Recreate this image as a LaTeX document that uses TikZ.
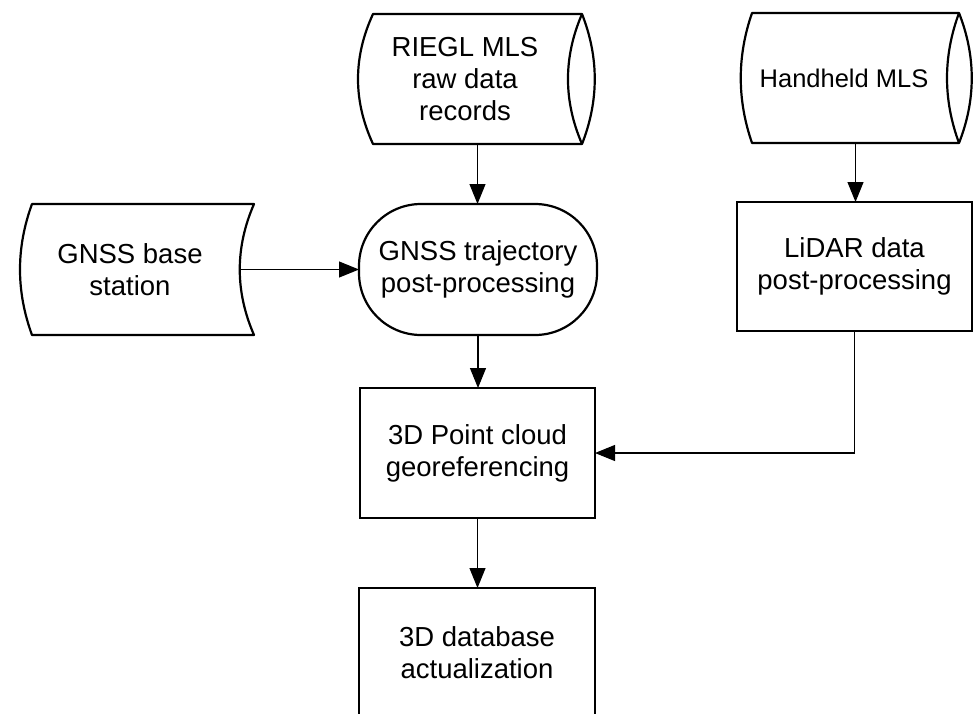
\documentclass[tikz,border=0pt]{standalone}
\usepackage{fontspec}
\setmainfont{Liberation Sans}
\usetikzlibrary{calc,arrows.meta}
\tikzset{
  outline/.style={line width=2.2pt, line join=round},
  shp/.style={draw=none, inner sep=0pt, outer sep=0pt},
  lbl/.style={align=center, inner sep=0pt, font=\fontsize{27.5}{32}\selectfont},
  box/.style={draw, line width=2.2pt, align=center, inner sep=0pt, outer sep=0pt,
              font=\fontsize{27.5}{32}\selectfont},
  conn/.style={line width=1.1pt, -{Triangle[length=20pt,width=16pt]}},
}
\begin{document}
\begin{tikzpicture}[x=1pt,y=-1pt]
\useasboundingbox (0,0) rectangle (973,713);
\clip (0,0) rectangle (973,713);

% RIEGL MLS raw data records (direct access storage)
\node[shp, minimum width=209pt, minimum height=130pt] (riegl) at (477.5,79) {};
\draw[outline] (riegl.north west) -- (riegl.north east)
  .. controls ($(riegl.north east)+(17,43.3)$) and ($(riegl.south east)+(17,-43.3)$) .. (riegl.south east)
  -- (riegl.south west)
  .. controls ($(riegl.south west)+(-20,-43.3)$) and ($(riegl.north west)+(-20,43.3)$) .. cycle;
\draw[outline] (riegl.north east)
  .. controls ($(riegl.north east)+(-18.7,43.3)$) and ($(riegl.south east)+(-18.7,-43.3)$) .. (riegl.south east);
\node[lbl] (riegl-t) at ($(riegl)+(-12.5,0)$) {RIEGL MLS\\raw data\\records};

% Handheld MLS
\node[shp, minimum width=207pt, minimum height=130pt] (hand) at (855.5,78) {};
\draw[outline] (hand.north west) -- (hand.north east)
  .. controls ($(hand.north east)+(17,43.3)$) and ($(hand.south east)+(17,-43.3)$) .. (hand.south east)
  -- (hand.south west)
  .. controls ($(hand.south west)+(-15,-43.3)$) and ($(hand.north west)+(-15,43.3)$) .. cycle;
\draw[outline] (hand.north east)
  .. controls ($(hand.north east)+(-16,43.3)$) and ($(hand.south east)+(-16,-43.3)$) .. (hand.south east);
\node[lbl, font=\fontsize{25.5}{30}\selectfont] (hand-t) at ($(hand)+(-11.5,0)$) {Handheld MLS};

% GNSS base station (stored data)
\node[shp, minimum width=222pt, minimum height=131pt] (base) at (143,269.5) {};
\draw[outline] (base.north west) -- (base.north east)
  .. controls ($(base.north east)+(-19,43.7)$) and ($(base.south east)+(-19,-43.7)$) .. (base.south east)
  -- (base.south west)
  .. controls ($(base.south west)+(-16,-43.7)$) and ($(base.north west)+(-16,43.7)$) .. cycle;
\node[lbl] (base-t) at ($(base)+(-13,0)$) {GNSS base\\station};
\coordinate (base-out) at ($(base.east)+(-14,0)$);

% process nodes
\node[box, rounded corners=62pt, minimum width=238pt, minimum height=131pt] (traj) at (478,269.5)
  {GNSS trajectory\\post-processing};
\node[box, minimum width=235pt, minimum height=129pt] (lidar) at (854.5,266.5)
  {LiDAR data\\post-processing};
\node[box, minimum width=235pt, minimum height=130pt] (pc) at (477.5,453)
  {3D Point cloud\\georeferencing};
\node[box, minimum width=236pt, minimum height=130pt] (db) at (477,653)
  {3D database\\actualization};

% connectors
\draw[conn] (riegl.south) -- (riegl.south |- traj.north);
\draw[conn] (hand.south) -- (hand.south |- lidar.north);
\draw[conn] (base-out) -- (traj.west);
\draw[conn] (traj.south) -- (traj.south |- pc.north);
\draw[conn] (lidar.south) |- (pc.east);
\draw[conn] (pc.south) -- (pc.south |- db.north);
\end{tikzpicture}
\end{document}
